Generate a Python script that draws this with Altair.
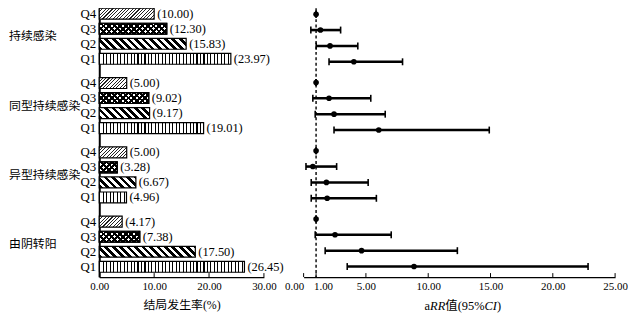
import math
import altair as alt

# ---------------- data ----------------
groups = ["持续感染", "同型持续感染", "异型持续感染", "由阴转阳"]
quarters = ["Q4", "Q3", "Q2", "Q1"]
rate = [
    [10.00, 12.30, 15.83, 23.97],
    [5.00, 9.02, 9.17, 19.01],
    [5.00, 3.28, 6.67, 4.96],
    [4.17, 7.38, 17.50, 26.45],
]
rr = [
    [1.00, 1.35, 2.12, 4.03],
    [1.00, 2.04, 2.44, 6.03],
    [1.00, 0.74, 1.83, 1.89],
    [1.00, 2.52, 4.65, 8.86],
]
rr_low = [
    [1.00, 0.58, 1.01, 2.04],
    [1.00, 0.74, 0.93, 2.44],
    [1.00, 0.19, 0.61, 0.61],
    [1.00, 0.93, 1.73, 3.50],
]
rr_high = [
    [1.00, 2.97, 4.35, 7.94],
    [1.00, 5.39, 6.55, 14.90],
    [1.00, 2.65, 5.18, 5.84],
    [1.00, 7.03, 12.34, 22.83],
]
left_ticks = [0, 10, 20, 30]
right_ticks = [0, 1, 5, 10, 15, 20, 25]
ref_value = [1]
left_title = "结局发生率(%)"
# right axis title, pieces with (text, italic, approx width in em)
right_title = [("a", False, 0.444), ("RR", True, 1.222), ("值", False, 1.0),
               ("(95%", False, 2.166), ("CI", True, 1.0), (")", False, 0.333)]

# ---------------- layout / style ----------------
FONT = "Liberation Serif, Noto Sans CJK SC"
LW, RW, H = 166, 314, 271
BAR = 11
L_MAX, R_MAX = 30, 25
L_GAP, R_GAP = 0.61, 0.30          # extra space between groups (in rows)
L_STEP, L_TOP = 15.16, 5.5          # px per row, first row centre
R_STEP, R_TOP = 16.0, 6.0

l_yscale = alt.Scale(domain=[-L_TOP / L_STEP, (H - L_TOP) / L_STEP], reverse=True,
                     nice=False, zero=False, padding=0)
r_yscale = alt.Scale(domain=[-R_TOP / R_STEP, (H - R_TOP) / R_STEP], reverse=True,
                     nice=False, zero=False, padding=0)
l_xscale = alt.Scale(domain=[0, L_MAX], nice=False, padding=0)
r_xscale = alt.Scale(domain=[0, R_MAX], nice=False, padding=0)


# ---------------- pattern fills (linear gradients with hard stops) ----------------
def stops(n, frac, on, off):
    out = []
    k = 0
    while k / n < 1:
        a = k / n
        b = min((k + frac) / n, 1.0)
        c = min((k + 1) / n, 1.0)
        out += [{"offset": a, "color": on}, {"offset": b, "color": on},
                {"offset": b, "color": off}, {"offset": c, "color": off}]
        k += 1
    return out


def vstripes(W, P, frac, on, off):
    return {"gradient": "linear", "x1": 0, "y1": 0, "x2": 1, "y2": 0,
            "stops": stops(max(W / P, 1), frac, on, off)}


def diag(W, P, frac, on, off, kind):
    Hb = BAR
    s = (W + Hb) / (W * W + Hb * Hb)
    n = max((W + Hb) / P, 1)
    if kind == "/":
        x1, y1, x2, y2 = 0, 0, W * s, Hb * s
    else:
        x1, y1, x2, y2 = 0, 1, W * s, 1 - Hb * s
    return {"gradient": "linear", "x1": x1, "y1": y1, "x2": x2, "y2": y2,
            "stops": stops(n, frac, on, off)}


def pattern(q, W):
    if q == "Q4":
        return diag(W, 3.4, 0.32, "#222222", "white", "/"), None
    if q == "Q3":
        return (diag(W, 5.6, 0.5, "black", "white", "/"),
                diag(W, 5.6, 0.5, "black", "rgba(0,0,0,0)", "\\"))
    if q == "Q2":
        return diag(W, 7.5, 0.5, "black", "white", "\\"), None
    return vstripes(W, 3.5, 0.32, "black", "white"), None


left_rows, right_rows = [], []
for g, grp in enumerate(groups):
    for r, q in enumerate(quarters):
        v = rate[g][r]
        f1, f2 = pattern(q, v * LW / L_MAX)
        row = {"group": grp, "q": q, "value": v, "pos": g * (4 + L_GAP) + r, "fill1": f1}
        if f2 is not None:
            row["fill2"] = f2
        left_rows.append(row)
        right_rows.append({"group": grp, "q": q, "rr": rr[g][r], "lo": rr_low[g][r],
                           "hi": rr_high[g][r], "pos": g * (4 + R_GAP) + r})

left_data = alt.Data(values=left_rows)
right_data = alt.Data(values=right_rows)

# ---------------- left panel ----------------
l_xaxis = alt.Axis(values=left_ticks, format=".2f", labelFlush=False, labelOverlap=False,
                   ticks=False, tickSize=0, grid=False, domainColor="black", domainWidth=1.2,
                   labelFont=FONT, labelFontSize=11, labelColor="black", labelPadding=4,
                   title=left_title, titleFont=FONT, titleFontSize=12,
                   titleFontWeight="normal", titleColor="black", titlePadding=8)
l_yaxis = alt.Axis(labels=False, ticks=False, grid=False, domain=True, domainColor="black",
                   domainWidth=2, title=None)

LX = alt.X("value:Q", scale=l_xscale, axis=l_xaxis, stack=None)
LY = alt.Y("pos:Q", scale=l_yscale, axis=l_yaxis)

bars = alt.Chart(left_data).mark_bar(orient="horizontal", size=BAR, stroke="black",
                                      strokeWidth=1.2).encode(
    x=LX, y=LY, fill=alt.Fill("fill1:N", scale=None))
bars_q3 = alt.Chart(left_data).transform_filter("datum.q == 'Q3'").mark_bar(
    orient="horizontal", size=BAR, stroke="black", strokeWidth=1.2).encode(
    x=LX, y=LY, fill=alt.Fill("fill2:N", scale=None))
vlabels = alt.Chart(left_data).transform_calculate(
    label="'(' + format(datum.value, '.2f') + ')'").mark_text(
    align="left", baseline="middle", dx=3, font=FONT, fontSize=12.5, color="black").encode(
    x=LX, y=LY, text="label:N")
qlabels = alt.Chart(left_data).mark_text(align="right", baseline="middle", font=FONT,
                                         fontSize=13, color="black").encode(
    x=alt.value(-3), y=LY, text="q:N")
glabels = alt.Chart(left_data).mark_text(align="left", baseline="middle", font=FONT,
                                         fontSize=12, color="black").encode(
    x=alt.value(-91), y=alt.Y("mean(pos):Q", scale=l_yscale, axis=l_yaxis), text="group:N")
lticks = alt.Chart(alt.Data(values=[{"t": t} for t in left_ticks])).mark_rule(
    color="black", strokeWidth=1).encode(
    x=alt.X("t:Q", scale=l_xscale, axis=l_xaxis), y=alt.value(H - 4), y2=alt.value(H))

left = alt.layer(bars, bars_q3, vlabels, qlabels, glabels, lticks).properties(width=LW, height=H)

# ---------------- right panel ----------------
r_xaxis = alt.Axis(values=right_ticks, format=".2f", labelFlush=False, labelOverlap=False,
                   ticks=False, tickSize=0, grid=False, domainColor="black", domainWidth=1.2,
                   labelFont=FONT, labelFontSize=11, labelColor="black", labelPadding=4,
                   labelAlign={"condition": {"test": "datum.value == 0", "value": "right"},
                               "value": "center"},
                   labelOffset={"condition": {"test": "datum.value == 1", "value": 7},
                                "value": 0},
                   title=None)
RY = alt.Y("pos:Q", scale=r_yscale, axis=None)

refline = alt.Chart(alt.Data(values=[{"ref": v} for v in ref_value])).mark_rule(
    color="black", strokeWidth=1.4, strokeDash=[3, 2.5]).encode(
    x=alt.X("ref:Q", scale=r_xscale, axis=r_xaxis))
ci = alt.Chart(right_data).mark_rule(color="black", strokeWidth=2.6).encode(
    x=alt.X("lo:Q", scale=r_xscale, axis=r_xaxis), x2="hi:Q", y=RY)
cap_lo = alt.Chart(right_data).mark_tick(orient="vertical", size=7, thickness=1.6,
                                         color="black", opacity=1).encode(
    x=alt.X("lo:Q", scale=r_xscale, axis=r_xaxis), y=RY)
cap_hi = alt.Chart(right_data).mark_tick(orient="vertical", size=7, thickness=1.6,
                                         color="black", opacity=1).encode(
    x=alt.X("hi:Q", scale=r_xscale, axis=r_xaxis), y=RY)
pts = alt.Chart(right_data).mark_circle(size=32, color="black", opacity=1).encode(
    x=alt.X("rr:Q", scale=r_xscale, axis=r_xaxis), y=RY)
rticks = alt.Chart(alt.Data(values=[{"t": t} for t in right_ticks])).mark_rule(
    color="black", strokeWidth=1).encode(
    x=alt.X("t:Q", scale=r_xscale, axis=r_xaxis), y=alt.value(H - 4), y2=alt.value(H))

# right axis title assembled from pieces so that RR and CI are italic
TFS = 12.5
total = sum(w for _, _, w in right_title) * TFS
x0 = RW / 2 - total / 2 + 3.5
title_layers = []
for text, italic, w in right_title:
    title_layers.append(
        alt.Chart(alt.Data(values=[{"t": text}])).mark_text(
            align="left", baseline="middle", font=FONT, fontSize=TFS, color="black",
            fontStyle="italic" if italic else "normal").encode(
            x=alt.value(x0), y=alt.value(H + 29), text="t:N"))
    x0 += w * TFS

right = alt.layer(refline, ci, cap_lo, cap_hi, pts, rticks, *title_layers).properties(
    width=RW, height=H)

chart = alt.hconcat(left, right, spacing=40, bounds="flush").properties(
    padding={"top": -3, "left": 0, "right": 0, "bottom": 0}).configure_view(stroke="transparent")

chart.save("out.html", embed_options={"renderer": "svg", "actions": False})
